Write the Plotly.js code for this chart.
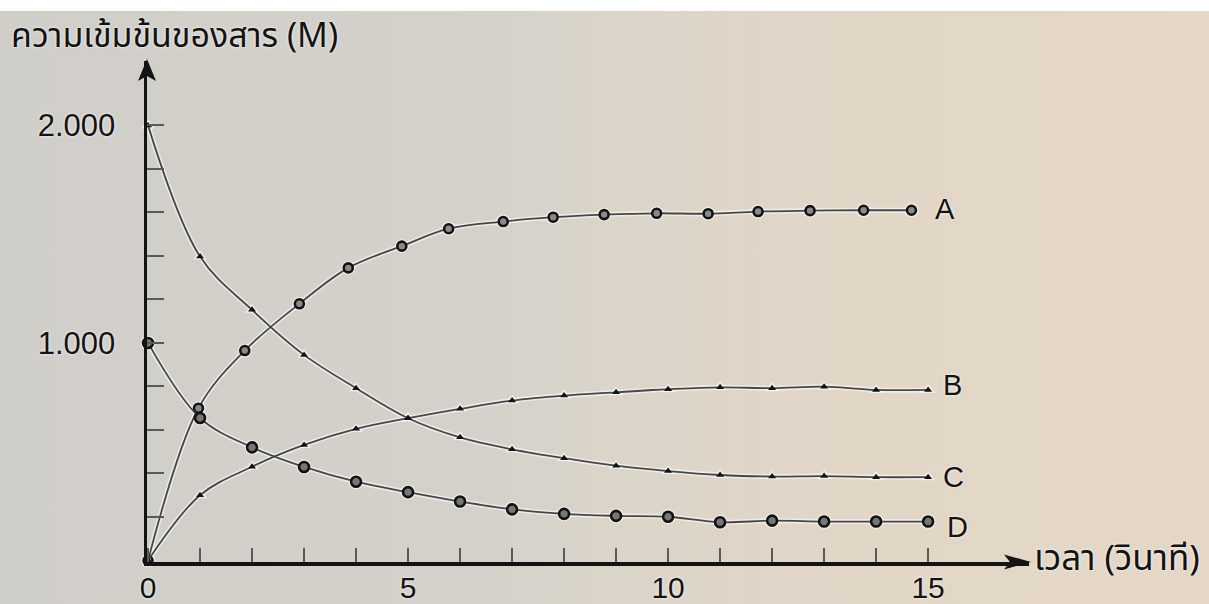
<!DOCTYPE html>
<html>
<head>
<meta charset="utf-8">
<script src="https://cdn.plot.ly/plotly-3.0.1.min.js"></script>
<style>
html,body{margin:0;padding:0;}
body{width:1209px;height:604px;overflow:hidden;
background:
 linear-gradient(to bottom,#ffffff 0,#ffffff 11px,rgba(255,255,255,0) 11px),
 linear-gradient(to right,#d0cec8 0%,#d3d1ca 38%,#dad4c9 50%,#e1d6c7 66%,#e4d7c6 100%);}
#chart{width:1209px;height:604px;}
</style>
</head>
<body>
<div id="chart"></div>
<script>
// ---- data ----
const time = [0,1,2,3,4,5,6,7,8,9,10,11,12,13,14,15];
const timeA = [0,0.97,1.86,2.91,3.85,4.88,5.78,6.83,7.79,8.77,9.78,10.77,11.73,12.73,13.76,14.68];
const concA = [0,0.70,0.965,1.18,1.345,1.445,1.525,1.558,1.578,1.59,1.596,1.594,1.604,1.608,1.61,1.61];
const concB = [0,0.30,0.431,0.531,0.605,0.654,0.697,0.735,0.758,0.773,0.787,0.796,0.792,0.799,0.784,0.784];
const concC = [2.0,1.397,1.152,0.945,0.792,0.654,0.566,0.511,0.47,0.436,0.411,0.393,0.386,0.388,0.383,0.383];
const concD = [1.0,0.655,0.52,0.43,0.362,0.314,0.271,0.235,0.214,0.205,0.201,0.176,0.183,0.179,0.179,0.179];
const seriesNames = ['A','B','C','D'];
const yTickVals = [0.2,0.4,0.6,0.8,1.0,1.2,1.4,1.6,1.8,2.0];
const yTickText = ['','','','','1.000','','','','','2.000'];
const xTickVals = [0,1,2,3,4,5,6,7,8,9,10,11,12,13,14,15];
const xTickText = ['0','','','','','5','','','','','10','','','','','15'];
const yTitle = 'ความเข้มข้นของสาร (M)';
const xTitle = 'เวลา (วินาที)';

// ---- styling ----
const xRange = [-0.02, 16.94];
const yRange = [-0.007, 2.296];
const lineCol = '#474747';
const inkCol = '#131313';
const thaiFont = '"Noto Sans Thai","Noto Sans","DejaVu Sans",sans-serif';
const numFont = '"Liberation Sans",Arial,sans-serif';
const halo = '0px 0px 3px #ffffff';

const series = [
  {x: timeA, y: concA, sym: 'circle', size: 9, fill: '#8a8a8a'},
  {x: time, y: concB, sym: 'triangle-up', size: 7, fill: inkCol},
  {x: time, y: concC, sym: 'triangle-up', size: 7, fill: inkCol},
  {x: time, y: concD, sym: 'circle', size: 10, fill: '#777777'}
];

const traces = [];
series.forEach((s) => {
  traces.push({
    x: s.x, y: s.y, mode: 'lines+markers', type: 'scatter', hoverinfo: 'skip',
    line: {shape: 'spline', smoothing: 1, color: 'rgba(255,255,255,0.55)', width: 5},
    marker: {symbol: s.sym, size: s.size + 5, color: 'rgba(255,255,255,0.6)'},
    cliponaxis: false, showlegend: false
  });
});
series.forEach((s, i) => {
  traces.push({
    x: s.x, y: s.y, mode: 'lines+markers', type: 'scatter', name: seriesNames[i],
    line: {shape: 'spline', smoothing: 1, color: lineCol, width: 1.8},
    marker: {symbol: s.sym, size: s.size, color: s.fill,
             line: {color: inkCol, width: s.sym === 'circle' ? 2.6 : 0}},
    cliponaxis: false, showlegend: false
  });
});

// series labels placed next to their last points
const labelShift = [[34, 1], [24, 5], [25, 0], [29, -5]];
const annotations = series.map((s, i) => ({
  x: s.x[s.x.length - 1], y: s.y[s.y.length - 1], xref: 'x', yref: 'y',
  text: seriesNames[i], showarrow: false,
  xshift: labelShift[i][0], yshift: labelShift[i][1],
  font: {family: numFont, size: 29, color: inkCol, shadow: halo}
}));
annotations.push({
  xref: 'paper', yref: 'paper', x: -0.156, y: 1.049, xanchor: 'left', yanchor: 'middle',
  text: yTitle, showarrow: false,
  font: {family: thaiFont, size: 34, color: inkCol, shadow: halo}
});
annotations.push({
  xref: 'paper', yref: 'paper', x: 1.003, y: 0.004, xanchor: 'left', yanchor: 'middle',
  text: xTitle, showarrow: false,
  font: {family: thaiFont, size: 35, color: inkCol, shadow: halo}
});

const shapes = [
  {type: 'path', xref: 'paper', yref: 'paper', xsizemode: 'pixel', ysizemode: 'pixel',
   xanchor: 1, yanchor: 0,
   path: 'M2,0 L-25,7.5 L-19,0 L-25,-7.5 Z', fillcolor: inkCol, line: {width: 0}},
  {type: 'path', xref: 'paper', yref: 'paper', xsizemode: 'pixel', ysizemode: 'pixel',
   xanchor: 0, yanchor: 1,
   path: 'M0,2 L-9,-20 L0,-15 L9,-20 Z', fillcolor: inkCol, line: {width: 0}}
];

const layout = {
  width: 1209, height: 604,
  margin: {l: 147, r: 180, t: 61, b: 42},
  paper_bgcolor: 'rgba(0,0,0,0)', plot_bgcolor: 'rgba(0,0,0,0)',
  showlegend: false,
  xaxis: {
    range: xRange, showgrid: false, zeroline: false,
    showline: true, linewidth: 3.5, linecolor: inkCol,
    tickmode: 'array', tickvals: xTickVals, ticktext: xTickText,
    ticks: 'inside', ticklen: 14, tickwidth: 2, tickcolor: '#5a5a5a',
    ticklabelstandoff: -4,
    tickfont: {family: numFont, size: 30, color: inkCol, shadow: halo}
  },
  yaxis: {
    range: yRange, showgrid: false, zeroline: false,
    showline: true, linewidth: 3.5, linecolor: inkCol,
    tickmode: 'array', tickvals: yTickVals, ticktext: yTickText,
    ticks: 'inside', ticklen: 17, tickwidth: 2, tickcolor: '#5a5a5a',
    ticklabelstandoff: 22,
    tickfont: {family: numFont, size: 31, color: inkCol, shadow: halo}
  },
  annotations: annotations,
  shapes: shapes
};

Plotly.newPlot('chart', traces, layout, {staticPlot: true, displayModeBar: false});
</script>
</body>
</html>
